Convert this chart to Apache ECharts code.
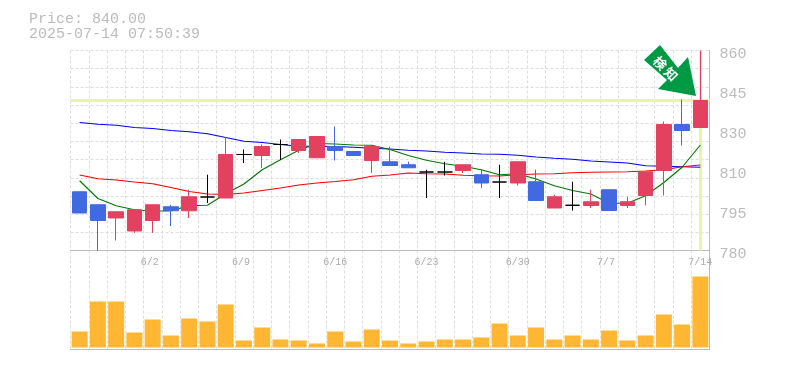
<!DOCTYPE html>
<html>
<head>
<meta charset="utf-8">
<style>html,body{margin:0;padding:0;background:#fff}#chart{width:785px;height:370px}</style>
<script src="https://cdn.jsdelivr.net/npm/echarts@6/dist/echarts.min.js"></script>
</head>
<body>
<div id="chart"></div>
<script>
var titleLines = ['Price: 840.00', '2025-07-14 07:50:39'];
var lastPrice = [840];
var dates = ['5/27','5/28','5/29','5/30','6/2','6/3','6/4','6/5','6/6','6/9','6/10','6/11','6/12','6/13','6/16','6/17','6/18','6/19','6/20','6/23','6/24','6/25','6/26','6/27','6/30','7/1','7/2','7/3','7/4','7/7','7/8','7/9','7/10','7/11','7/14'];
var dateLabels = ['6/2','6/9','6/16','6/23','6/30','7/7','7/14'];
// open, close, low, high
var open  = [803.5,798.3,793,787.8,792,797.5,795.9,801.4,801,818.4,818,822.4,820,817.1,821.6,819.6,816,815.5,814.3,811.4,811.4,812,810.3,807.4,807,807.5,797,798.1,798,804.3,798,802,812,830.4,829.2];
var close = [795,792,795.5,796.3,798.3,795.9,801.5,801.4,818.4,818.4,821.6,822.4,824.4,825.6,820,818,821.6,814,813.1,811.4,811.4,814.3,807,807.4,815.5,800,801.5,798.1,799.5,796,799.5,811.5,830.4,828,840];
var low   = [795,780,784,787,787,789.8,793,799,801,815,813,816.3,819,817.1,816,818,811,814,813.1,801,810,811,805,801,806,800,797,796,797,796,797,798,802,822,829.2];
var high  = [803.5,798.3,795.5,796.3,798.3,798.3,804.3,810.3,825.4,820.4,822.4,824.4,824.4,825.6,829.6,819.6,821.6,821.6,815.5,812.3,815.5,814.3,812.3,814.3,815.5,812.3,802.3,807.5,804.3,804.3,801.5,811.5,831.6,840.4,860];
var maShort = [807.9,800.8,797.9,796.3,795.7,795.9,797.9,798.1,802.7,806.6,812.3,816.3,820.1,822.8,822.6,822.2,822.1,820.4,818,816.1,814.7,813.7,812.3,810.3,810.7,808.6,805.9,804,802.6,798.9,798.9,801.9,807.2,813.3,822.2];
var maMid = [810.2,808.7,808.2,807.4,806.7,805.2,803.6,802.6,802.4,803,804,805,806.2,807,807.6,808.3,809.7,810.2,811,810.7,810.6,810.1,809.9,809.8,810.3,810.6,810.7,811.1,811.3,811.4,811.5,811.8,812.3,813.5,814.2];
var maLong = [831.2,830.5,830.1,829.2,828.8,828,827.5,826.7,825.2,823.7,823.2,822.4,821.7,821.7,821.6,821.3,820.9,820.6,820.1,819.8,819.3,819,818.6,818.5,818.1,817.4,816.9,816.5,815.8,815.4,815,813.9,813.7,813.5,813.3];
var volume = [16,46,46,15,28,12,29,26,43,7,20,8,7,4,16,6,18,7,4,6,8,8,10,24,12,20,8,12,8,17,7,12,33,23,71];
var priceTicks = [780,796,812,828,844,860];
var priceTickLabels = ['780','795','810','830','845','860'];
var gridTicks = [780,787.27,794.55,801.82,809.09,816.36,823.64,830.91,838.18,845.45,852.73,860];

var FONT = '"Liberation Mono", monospace';
var GRAY = '#bbbbbb';
var DASH = { color: '#dddddd', width: 1, type: [3, 2] };

var candles = dates.map(function (d, i) {
  return [open[i], close[i], low[i], high[i]];
});

var chart = echarts.init(document.getElementById('chart'), null, { renderer: 'canvas' });
chart.setOption({
  animation: false,
  backgroundColor: '#fff',
  title: {
    text: titleLines.join('\n'),
    left: 29,
    top: 12,
    padding: 0,
    textStyle: { color: GRAY, fontFamily: FONT, fontSize: 15, fontWeight: 'normal', lineHeight: 15 }
  },
  grid: [
    { left: 70.5, right: 75.5, top: 50.5, height: 200 },
    { left: 70.5, right: 75.5, top: 250.5, height: 99 }
  ],
  xAxis: [
    {
      type: 'category', gridIndex: 0, data: dates, position: 'bottom',
      axisLine: { lineStyle: { color: GRAY } },
      axisTick: { show: false },
      splitLine: { show: true, interval: 0, lineStyle: DASH },
      axisLabel: {
        color: '#aaaaaa', fontFamily: FONT, fontSize: 10, margin: 7,
        interval: function (i, v) { return dateLabels.indexOf(v) >= 0; },
        hideOverlap: false,
        showMaxLabel: true,
        formatter: function (v) { return v.padEnd(4); }
      }
    },
    {
      type: 'category', gridIndex: 1, data: dates, position: 'bottom',
      axisLine: { onZero: false, lineStyle: { color: GRAY } },
      axisTick: { show: false },
      splitLine: { show: true, interval: 0, lineStyle: DASH },
      axisLabel: { show: false }
    }
  ],
  yAxis: [
    {
      type: 'value', gridIndex: 0, position: 'right', min: 780, max: 860, scale: true,
      axisLine: { show: true, lineStyle: { color: GRAY } },
      axisTick: { show: false, customValues: gridTicks },
      splitLine: { show: true, lineStyle: DASH },
      axisLabel: {
        customValues: priceTicks,
        color: GRAY, fontFamily: FONT, fontSize: 15, margin: 10, verticalAlign: 'top', lineHeight: 8,
        formatter: function (v) { return priceTickLabels[priceTicks.indexOf(v)]; }
      }
    },
    {
      type: 'value', gridIndex: 1, position: 'right', min: -2, max: 97,
      axisLine: { show: true, lineStyle: { color: GRAY } },
      axisTick: { show: false },
      splitLine: { show: false },
      axisLabel: { show: false }
    }
  ],
  series: [
    {
      name: 'Price', type: 'line', xAxisIndex: 0, yAxisIndex: 0, data: [], z: 1, silent: true,
      markLine: {
        z: 1, silent: true, symbol: 'none', animation: false, label: { show: false },
        lineStyle: { color: '#e6f5a8', width: 3, type: 'solid' },
        data: [{ yAxis: lastPrice[0] }, { xAxis: dates[dates.length - 1] }]
      }
    },
    { name: 'MA long', type: 'line', data: maLong, symbol: 'none', z: 2, lineStyle: { color: '#0000ff', width: 1.2 } },
    { name: 'MA mid', type: 'line', data: maMid, symbol: 'none', z: 2, lineStyle: { color: '#ff0000', width: 1.2 } },
    { name: 'MA short', type: 'line', data: maShort, symbol: 'none', z: 3, lineStyle: { color: '#007700', width: 1.1 } },
    {
      name: 'Candle', type: 'candlestick', data: candles, barWidth: 15, z: 4,
      itemStyle: {
        color: '#e2425f', color0: '#4169e1', borderColor: '#e2425f', borderColor0: '#4169e1',
        borderColorDoji: '#000000', borderWidth: 1
      }
    },
    {
      name: 'Volume', type: 'bar', xAxisIndex: 1, yAxisIndex: 1, data: volume, barWidth: 16,
      itemStyle: { color: '#ffb733' }
    }
  ],
  graphic: [
    {
      type: 'polygon', z: 10,
      shape: { points: [[660,45],[644,60],[667,80],[658,89],[696,96],[688,57],[678,68]] },
      style: { fill: '#009944' }
    },
    {
      type: 'text', z: 11, x: 660, y: 63, rotation: -Math.PI / 4,
      style: { text: '検', fill: '#fff', font: 'bold 13px "Noto Sans CJK JP"', align: 'center', verticalAlign: 'middle' }
    },
    {
      type: 'text', z: 11, x: 671, y: 74, rotation: -Math.PI / 4,
      style: { text: '知', fill: '#fff', font: 'bold 13px "Noto Sans CJK JP"', align: 'center', verticalAlign: 'middle' }
    }
  ]
});
</script>
</body>
</html>
